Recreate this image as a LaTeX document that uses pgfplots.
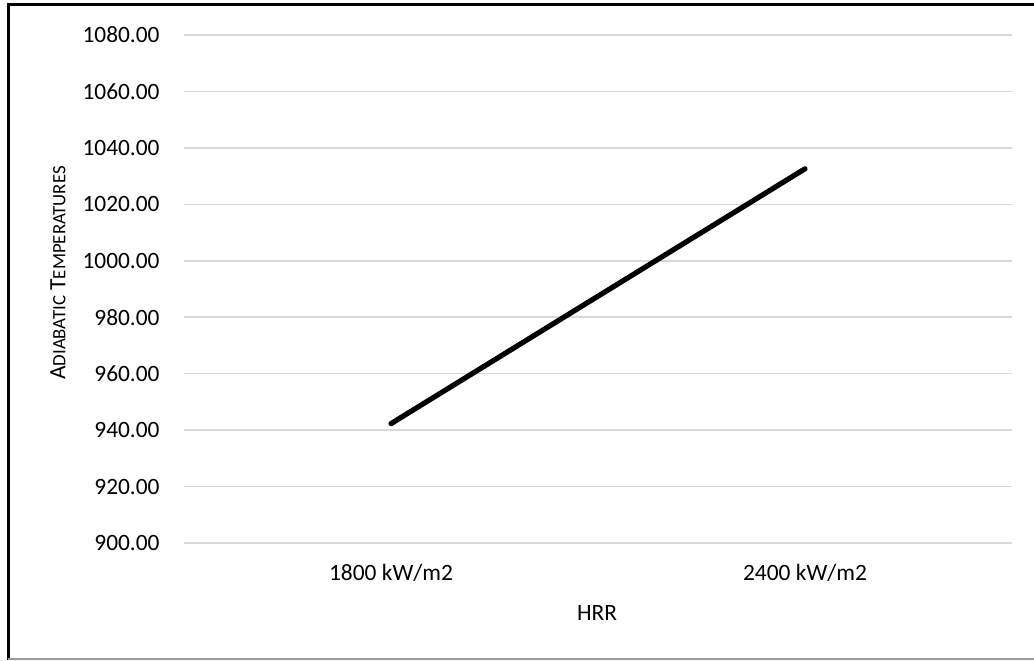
\documentclass[border=0pt]{standalone}
\usepackage{pgfplots}
\pgfplotsset{compat=1.18}
\usepackage{fontspec}
\setmainfont{Carlito}
\begin{document}
\fontsize{11.7}{14}\selectfont
\begin{tikzpicture}
\useasboundingbox (0,0) rectangle (517pt,330pt);
\draw[black, line width=1.5pt] (4pt,0) -- (4pt,327.5pt) -- (517pt,327.5pt);
\draw[gray!80, line width=0.75pt] (4pt,0.5pt) -- (517pt,0.5pt);
\begin{axis}[
  at={(92pt,58.5pt)}, anchor=south west,
  scale only axis, width=414pt, height=254pt,
  xmin=-0.5, xmax=1.5, ymin=900, ymax=1080,
  xtick={0,1}, xticklabels={1800 kW/m2, 2400 kW/m2},
  ytick={900,920,...,1080},
  ymajorgrids, grid style={draw=black!15, line width=0.75pt},
  axis line style={draw=none},
  major tick length=0pt,
  /pgf/number format/assume math mode=true,
  yticklabel={\pgfmathprintnumber[fixed, fixed zerofill, precision=2, 1000 sep={}]{\tick}},
  yticklabel style={anchor=east, inner sep=0pt, xshift=-12pt, font=\fontsize{11.7}{14}\selectfont},
  xticklabel style={anchor=base, inner sep=0pt, yshift=-18.5pt, font=\fontsize{11.7}{14}\selectfont},
  clip=false,
]
\addplot[black, line width=2.6pt, line cap=round] coordinates {(0,942.3) (1,1032.6)};
\end{axis}
\node[anchor=base, inner sep=0pt] at (298.5pt,20pt) {HRR};
\node[rotate=90, inner sep=0pt] at (29pt,193.5pt) {A{\fontsize{9.4}{11}\selectfont DIABATIC} T{\fontsize{9.4}{11}\selectfont EMPERATURES}};
\end{tikzpicture}
\end{document}
